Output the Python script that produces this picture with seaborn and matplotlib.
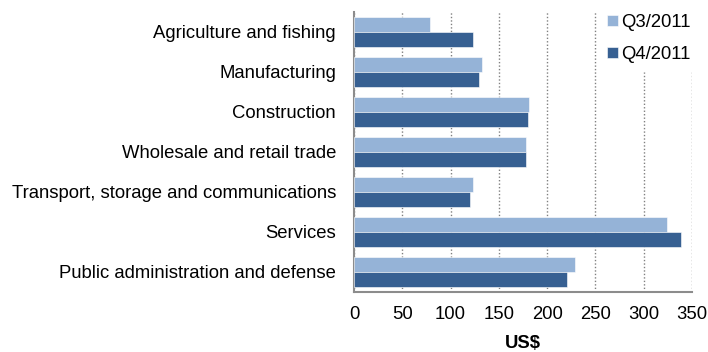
import matplotlib
matplotlib.use("Agg")
import matplotlib.pyplot as plt
import seaborn as sns
import pandas as pd

sectors = [
    "Agriculture and fishing",
    "Manufacturing",
    "Construction",
    "Wholesale and retail trade",
    "Transport, storage and communications",
    "Services",
    "Public administration and defense",
]
q3_2011 = [79, 133, 181, 178, 123, 324, 229]
q4_2011 = [123, 129, 180, 178, 120, 339, 221]
quarters = ["Q3/2011", "Q4/2011"]
palette = ["#95B3D7", "#376092"]

df = pd.DataFrame({
    "sector": sectors * 2,
    "value": q3_2011 + q4_2011,
    "quarter": [quarters[0]] * len(sectors) + [quarters[1]] * len(sectors),
})

sns.set_theme(style="white")
plt.rcParams["font.family"] = ["Liberation Sans", "DejaVu Sans"]
plt.rcParams["text.color"] = "black"
plt.rcParams["axes.labelcolor"] = "black"

FS = 13.3

fig, ax = plt.subplots(figsize=(7.08, 3.52), dpi=100)
fig.subplots_adjust(left=354 / 708, right=692 / 708, top=1 - 12 / 352, bottom=1 - 292 / 352)

sns.barplot(data=df, y="sector", x="value", hue="quarter", order=sectors,
            hue_order=quarters, palette=palette, orient="h", width=0.75,
            edgecolor="white", linewidth=0.4, saturation=1, ax=ax, zorder=3)

ax.set_xlim(0, 350)
ax.set_xticks(range(0, 351, 50))
ax.xaxis.grid(True, linestyle=(0, (1, 1.5)), color="#808080", linewidth=1.0, zorder=0)
ax.set_axisbelow(True)
ax.tick_params(axis="both", length=0, labelsize=FS, colors="black")
ax.tick_params(axis="x", pad=10)
ax.tick_params(axis="y", pad=13)
ax.set_ylabel("")
ax.set_xlabel("US$", fontsize=FS, fontweight="bold", labelpad=9, color="black")
for side in ["top", "right"]:
    ax.spines[side].set_visible(False)
for side in ["left", "bottom"]:
    ax.spines[side].set_color("#8c8c8c")
    ax.spines[side].set_linewidth(1.5)

handles, labels = ax.get_legend_handles_labels()
ax.get_legend().remove()
leg = fig.legend(handles, labels, loc="upper left",
                 bbox_to_anchor=(600 / 708, 1 - 7 / 352),
                 frameon=True, fontsize=FS, handlelength=0.55, handleheight=0.55,
                 handletextpad=0.22, labelspacing=0.8, borderaxespad=0,
                 borderpad=0.4, fancybox=False, labelcolor="black")
leg.get_frame().set_edgecolor("white")
leg.get_frame().set_facecolor("white")
leg.get_frame().set_alpha(1)
leg.set_zorder(5)

fig.savefig("out.png", dpi=100)
